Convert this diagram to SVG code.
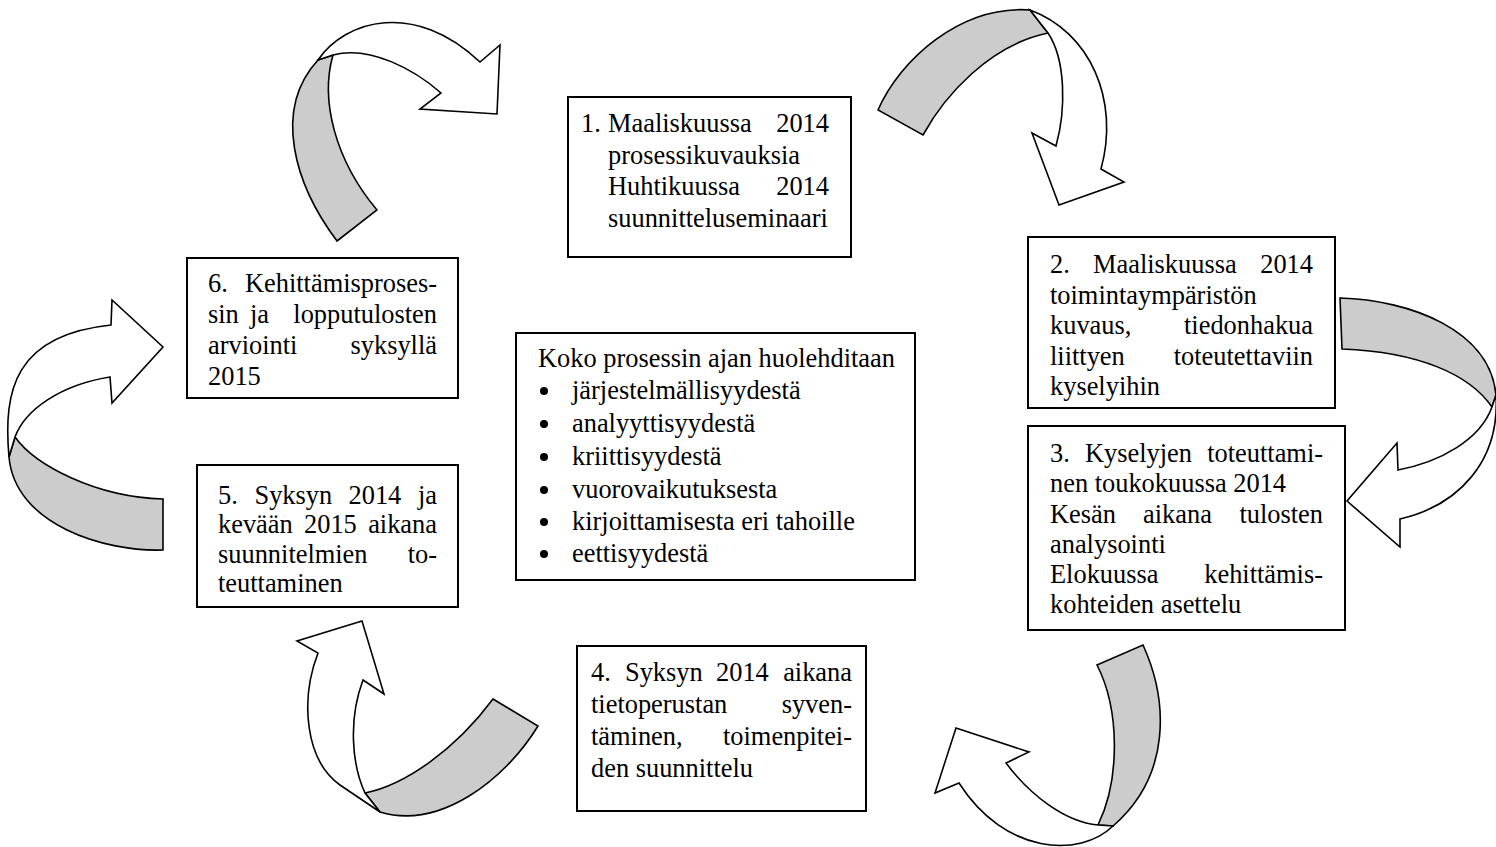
<svg xmlns="http://www.w3.org/2000/svg" width="1496" height="847" viewBox="0 0 1496 847">
<style>
text{font-family:'Liberation Serif','Times New Roman',Times,'DejaVu Serif',serif;font-size:26.4px;fill:#000}
.r{text-anchor:end}
.box{fill:#fff;stroke:#000;stroke-width:2}
.dot{fill:#000}
.back{fill:#cccccc;stroke:#000;stroke-width:1.6;stroke-linejoin:miter}
.front{fill:#fff;stroke:#000;stroke-width:1.6;stroke-linejoin:miter}
</style>
<rect width="1496" height="847" fill="#fff"/>
<g id="connectors">
  <g id="arrow-6-1">
    <path class="back" d="M337,241 C295,185 272,110 318,60 L333,55 C320,100 335,160 377,210 Z"/>
    <path class="front" d="M318,60 C345,20 415,0 480,62 L500,45 L497,114 L420,109 L441,93 C415,70 370,45 333,55 Z"/>
  </g>
  <g id="arrow-1-2">
    <path class="back" d="M878,110 C900,60 960,5 1030,10 L1048,33 C990,45 945,95 923,135 Z"/>
    <path class="front" d="M1030,10 C1090,32 1120,100 1101,169 L1124,182 L1059,205 L1032,133 L1056,146 C1066,110 1066,60 1048,33 Z"/>
  </g>
  <g id="arrow-2-3">
    <path class="back" d="M1340,298 C1410,300 1490,330 1496,395 L1492,407 C1470,375 1420,352 1342,349 Z"/>
    <path class="front" d="M1496,395 C1500,460 1460,505 1400,519 L1400,547 L1347,501 L1397,443 L1398,470 C1440,462 1480,440 1492,407 Z"/>
  </g>
  <g id="arrow-3-4">
    <path class="back" d="M1097,665 L1143,645 C1168,700 1172,775 1113,826 L1098,825 C1120,780 1120,710 1097,665 Z"/>
    <path class="front" d="M1113,826 C1080,858 1005,855 959,783 L935,793 L956,728 L1029,752 L1006,763 C1030,795 1065,822 1098,825 Z"/>
  </g>
  <g id="arrow-4-5">
    <path class="back" d="M493,699 L538,726 C505,780 440,830 380,812 L365,793 C405,785 455,750 493,699 Z"/>
    <path class="front" d="M363,680 L384,694 L362,621 L297,641 L318,653 C300,700 305,760 340,785 L380,812 L365,793 C352,765 348,720 363,680 Z"/>
  </g>
  <g id="arrow-5-6">
    <path class="back" d="M163,499 L163,550 C105,552 15,525 9,457 L15,437 C35,465 95,497 163,499 Z"/>
    <path class="front" d="M9,457 C3,390 15,335 111,325 L112,300 L163,347 L112,403 L110,377 C60,385 25,410 15,437 Z"/>
  </g>
</g>
<g id="node1">
  <rect class="box" x="568" y="97" width="283" height="160"/>
  <text x="581" y="132">1.</text>
  <text x="608" y="132">Maaliskuussa</text>
  <text class="r" x="829" y="132">2014</text>
  <text x="608" y="163.5">prosessikuvauksia</text>
  <text x="608" y="195">Huhtikuussa</text>
  <text class="r" x="829" y="195">2014</text>
  <text x="608" y="226.5">suunnitteluseminaari</text>
</g>
<g id="node2">
  <rect class="box" x="1028" y="237" width="307" height="171"/>
  <text x="1050" y="273">2.</text>
  <text x="1093" y="273">Maaliskuussa</text>
  <text class="r" x="1313" y="273">2014</text>
  <text x="1050" y="303.5">toimintaympäristön</text>
  <text x="1050" y="334">kuvaus,</text>
  <text class="r" x="1313" y="334">tiedonhakua</text>
  <text x="1050" y="364.5">liittyen</text>
  <text class="r" x="1313" y="364.5">toteutettaviin</text>
  <text x="1050" y="395">kyselyihin</text>
</g>
<g id="node3">
  <rect class="box" x="1028" y="426" width="317" height="204"/>
  <text x="1050" y="462">3.</text>
  <text x="1085" y="462">Kyselyjen</text>
  <text class="r" x="1323" y="462">toteuttami-</text>
  <text x="1050" y="492">nen toukokuussa 2014</text>
  <text x="1050" y="522.5">Kesän</text>
  <text x="1143" y="522.5">aikana</text>
  <text class="r" x="1323" y="522.5">tulosten</text>
  <text x="1050" y="553">analysointi</text>
  <text x="1050" y="583">Elokuussa</text>
  <text class="r" x="1323" y="583">kehittämis-</text>
  <text x="1050" y="613">kohteiden asettelu</text>
</g>
<g id="node4">
  <rect class="box" x="577" y="646" width="289" height="165"/>
  <text x="591" y="681">4.</text>
  <text x="625" y="681">Syksyn</text>
  <text x="716" y="681">2014</text>
  <text class="r" x="852" y="681">aikana</text>
  <text x="591" y="713">tietoperustan</text>
  <text class="r" x="852" y="713">syven-</text>
  <text x="591" y="745">täminen,</text>
  <text class="r" x="852" y="745">toimenpitei-</text>
  <text x="591" y="777">den suunnittelu</text>
</g>
<g id="node5">
  <rect class="box" x="197" y="465" width="261" height="142"/>
  <text x="218" y="504">5.</text>
  <text x="254.5" y="504">Syksyn</text>
  <text x="348.5" y="504">2014</text>
  <text class="r" x="437" y="504">ja</text>
  <text x="218" y="533">kevään</text>
  <text x="304" y="533">2015</text>
  <text class="r" x="437" y="533">aikana</text>
  <text x="218" y="563">suunnitelmien</text>
  <text class="r" x="437" y="563">to-</text>
  <text x="218" y="592">teuttaminen</text>
</g>
<g id="node6">
  <rect class="box" x="187" y="258" width="271" height="140"/>
  <text x="208" y="292">6.</text>
  <text class="r" x="437" y="292">Kehittämisproses-</text>
  <text x="208" y="323">sin</text>
  <text x="250" y="323">ja</text>
  <text class="r" x="437" y="323">lopputulosten</text>
  <text x="208" y="354">arviointi</text>
  <text class="r" x="437" y="354">syksyllä</text>
  <text x="208" y="385">2015</text>
</g>
<g id="center">
  <rect class="box" x="516" y="333" width="399" height="247"/>
  <text x="538" y="367">Koko prosessin ajan huolehditaan</text>
  <circle class="dot" cx="544" cy="391" r="4"/>
  <text x="572" y="399">järjestelmällisyydestä</text>
  <circle class="dot" cx="544" cy="424" r="4"/>
  <text x="572" y="432">analyyttisyydestä</text>
  <circle class="dot" cx="544" cy="457" r="4"/>
  <text x="572" y="465">kriittisyydestä</text>
  <circle class="dot" cx="544" cy="490" r="4"/>
  <text x="572" y="498">vuorovaikutuksesta</text>
  <circle class="dot" cx="544" cy="522" r="4"/>
  <text x="572" y="530">kirjoittamisesta eri tahoille</text>
  <circle class="dot" cx="544" cy="554" r="4"/>
  <text x="572" y="562">eettisyydestä</text>
</g>
</svg>
